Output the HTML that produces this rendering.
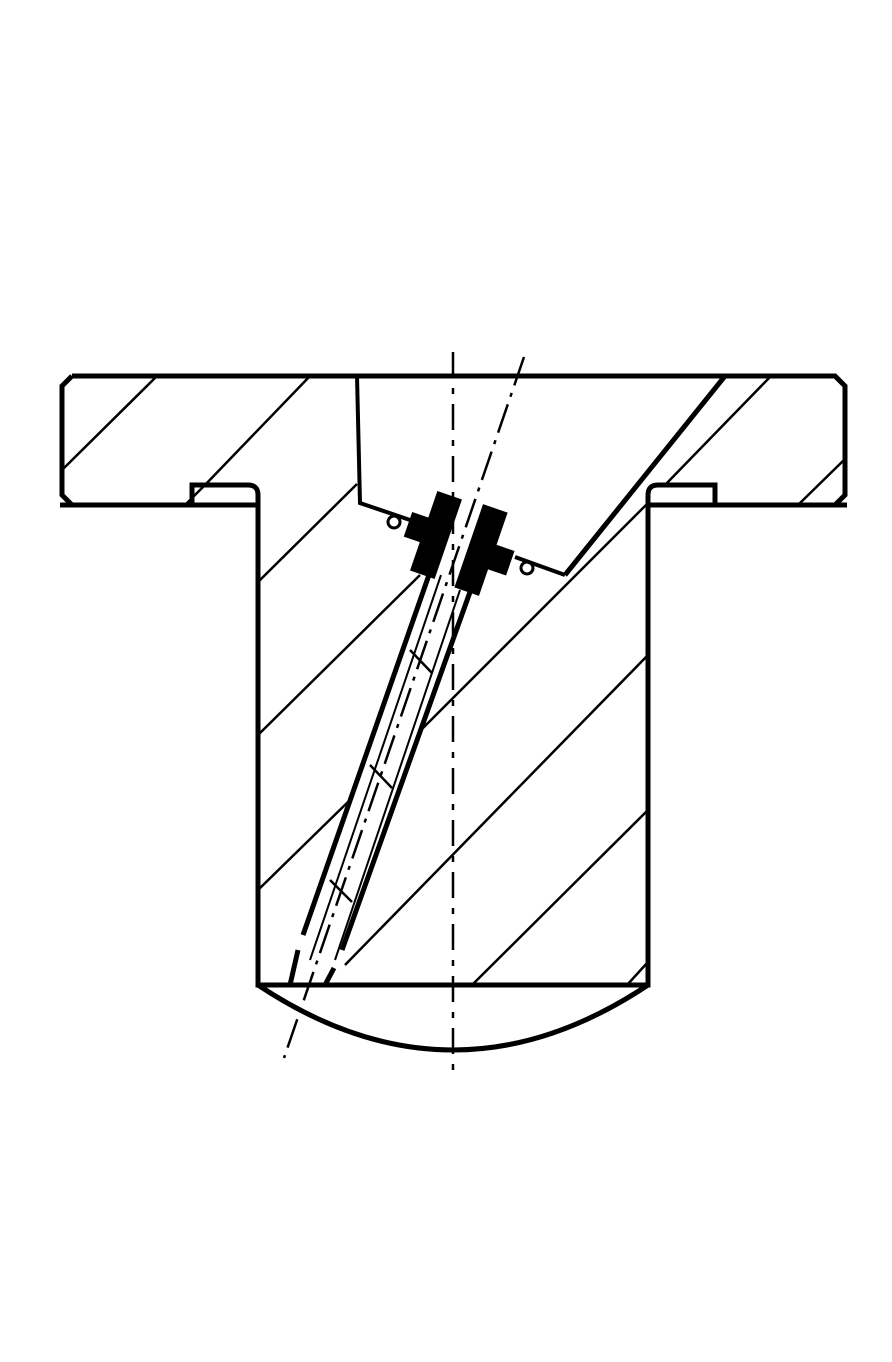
<!DOCTYPE html>
<html><head><meta charset="utf-8"><style>body{margin:0;background:#fff}svg{display:block}</style></head>
<body>
<svg width="892" height="1362" viewBox="0 0 892 1362" fill="none" stroke="#000" stroke-linecap="butt">
<g stroke-width="5">
<path d="M72 376 L835 376 L845 386 L845 495 L835 505 M847 505 L715 505 L715 485 L658 485 Q648 485 648 495 L648 985 L258 985 L258 495 Q258 485 248 485 L192 485 L192 505 M60 505 L258 505 M648 505 L715 505 M72 376 L62 386 L62 495 L72 505"/>
<path d="M258 985 Q453 1115 648 985"/>
</g>
<g stroke-width="4">
<path d="M357 376 L360 503 L410 520 M515 557 L565 575"/>
<path d="M565 575 L725 376" stroke-width="5"/>
</g>
<g stroke-width="2.5">
<path d="M62 470 L157 376 M185 505 L205 485 M205 485 L310 376 M258 582 L357 484 M258 735 L420 575 M258 890 L350 800 M665 485 L771 376 M798 505 L845 459 M420 731 L648 503 M345 965 L648 655 M472 985 L648 810 M627 985 L648 962 M410 650 L432 673 M370 765 L392 788 M330 880 L352 902"/>
</g>
<g stroke-width="2.5" stroke-dasharray="26,10,6,10">
<path d="M453 352 L453 1070"/>
</g>
<g stroke-width="2.5" stroke-dasharray="30,8,4,8">
<path d="M524 357 L284 1058"/>
</g>
<g>
<path d="M430 572 L303 935 M298 950 L290 985" stroke-width="5"/>
<path d="M470 592 L342 950 M334 968 L325 985" stroke-width="5"/>
<path d="M441 575 L310 960 M460 590 L335 960" stroke-width="2"/>
<path d="M290 985 L325 985" stroke-width="4"/>
</g>
<g fill="#000" stroke="none">
<g transform="translate(436,535) rotate(19)"><rect x="-13" y="-42" width="26" height="84"/><rect x="-30" y="-14" width="22" height="26"/></g>
<g transform="translate(481,550) rotate(19)"><rect x="-13" y="-44" width="26" height="88"/><rect x="8" y="-10" width="24" height="26"/></g>
</g>
<g stroke-width="3">
<circle cx="394" cy="522" r="6"/><circle cx="527" cy="568" r="6"/>
</g>
</svg>
</body></html>
